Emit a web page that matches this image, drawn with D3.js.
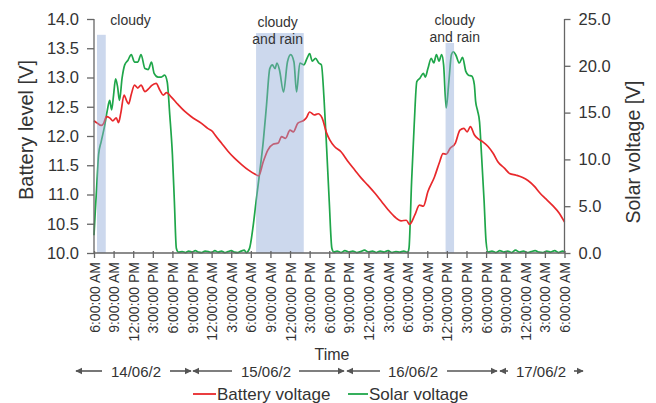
<!DOCTYPE html>
<html>
<head>
<meta charset="utf-8">
<script src="https://cdn.jsdelivr.net/npm/d3@7"></script>
<style>
  html, body { margin: 0; padding: 0; background: #fff; }
  svg { display: block; font-family: "Liberation Sans", Arial, sans-serif; }
</style>
</head>
<body>
<svg id="chart" width="656" height="403"></svg>
<script>
// Battery voltage readings: hours since 6:00 AM on 14/06 and volts
const batteryHours = [0,0.5,1.1,1.5,1.9,2.4,2.9,3.4,3.75,4.1,4.6,5.0,5.3,5.7,6.2,6.7,7.2,7.8,8.3,8.8,9.5,10.1,10.6,11.1,11.8,12.85,13.9,14.9,16.4,17.4,18.2,18.5,19.5,20.5,21.5,22.5,23.6,24.6,25.2,25.9,26.6,27.4,28.2,28.7,29.3,30.0,30.5,31.2,32.0,32.5,33.0,33.7,34.3,34.9,35.6,36.1,36.8,37.8,38.9,39.9,40.9,41.9,43.0,44.0,45.0,46.0,47.0,47.8,48.3,49.1,49.8,50.4,51.1,52.1,52.9,53.4,53.9,54.5,55.3,56.0,56.6,57.1,57.6,58.2,58.8,59.5,60.3,61.1,61.8,62.8,63.6,64.6,65.6,66.4,67.4,68.2,69.2,70.2,71.2,72.0];
const batteryVolts = [12.26,12.22,12.18,12.22,12.33,12.31,12.26,12.31,12.23,12.39,12.70,12.60,12.55,12.71,12.87,12.82,12.87,12.76,12.80,12.86,12.90,12.78,12.70,12.74,12.67,12.54,12.42,12.33,12.22,12.13,12.07,12.02,11.88,11.74,11.62,11.52,11.42,11.35,11.32,11.56,11.76,11.86,11.88,11.99,11.96,12.10,12.07,12.22,12.26,12.31,12.41,12.36,12.38,12.31,12.05,11.93,11.82,11.73,11.56,11.42,11.28,11.16,11.02,10.88,10.74,10.62,10.55,10.56,10.49,10.65,10.82,10.80,11.05,11.30,11.56,11.70,11.69,11.79,11.88,12.10,12.13,12.07,12.16,12.02,11.95,11.90,11.82,11.70,11.56,11.45,11.36,11.33,11.29,11.24,11.14,11.03,10.92,10.81,10.68,10.53];

// Solar panel voltage readings: hours since 6:00 AM on 14/06 and volts
const solarHours = [0,0.2,0.4,0.7,1.1,1.6,2.0,2.4,2.7,3.0,3.3,3.6,3.9,4.3,4.7,5.2,5.7,6.2,6.7,7.2,7.8,8.3,8.8,9.2,9.8,10.3,10.8,11.2,11.6,12.0,12.3,12.6,12.9,13.5,14.0,14.5,15.0,15.5,16.0,16.5,17.0,17.5,18.0,18.5,19.0,19.5,20.0,20.5,21.0,21.5,22.0,22.5,23.0,23.3,23.8,24.3,24.8,25.3,25.9,26.4,26.9,27.3,27.7,28.0,28.4,29.0,29.6,30.1,30.6,31.0,31.5,32.1,32.6,33.0,33.4,33.9,34.4,34.8,35.2,35.6,36.0,36.4,36.7,37.2,37.8,38.4,39.0,39.6,40.2,40.8,41.4,42.0,42.6,43.2,43.8,44.4,45.0,45.6,46.2,46.8,47.4,48.0,48.2,48.6,49.0,49.4,49.9,50.4,50.7,51.1,51.6,52.0,52.4,52.8,53.2,53.5,53.9,54.3,54.7,55.0,55.4,55.9,56.4,56.9,57.3,57.8,58.2,58.4,58.7,59.0,59.3,59.7,60.0,60.3,60.9,61.5,62.1,62.7,63.3,63.9,64.5,65.1,65.7,66.3,66.9,67.5,68.1,68.7,69.3,69.9,70.5,71.1,71.7,72.0];
const solarVolts = [1.9,4.5,6.9,10.5,11.9,13.5,15.1,16.3,15.3,16.9,18.6,17.8,16.3,18.7,20.1,20.6,21.2,20.4,20.4,21.2,19.7,19.6,20.4,19.2,18.8,18.8,19.0,18.3,14.7,10.5,5.5,0.5,0.1,0.15,0.05,0.2,0.1,0.25,0.1,0.05,0.2,0.15,0.05,0.25,0.1,0.2,0.05,0.15,0.25,0.1,0.05,0.2,0.3,0.05,0.5,2.6,5.5,8.3,11.9,15.8,19.7,20.1,19.7,20.3,19.5,17.2,20.4,21.2,20.4,17.2,20.3,20.1,20.8,21.3,20.5,20.8,20.3,20.1,16.5,11.2,5.5,0.5,0.1,0.2,0.05,0.25,0.1,0.2,0.05,0.15,0.3,0.1,0.2,0.05,0.2,0.1,0.25,0.05,0.15,0.1,0.2,0.05,0.5,7.6,13.7,18.3,18.7,19.2,18.8,19.7,20.8,20.3,21.2,20.5,21.2,20.1,15.5,18.3,21.2,21.5,21.1,20.3,20.9,19.4,19.0,18.9,18.0,16.2,15.2,14.0,10.5,5.5,1.2,0.1,0.2,0.05,0.25,0.1,0.2,0.05,0.3,0.1,0.2,0.05,0.15,0.25,0.1,0.05,0.2,0.1,0.25,0.05,0.2,0.15];

// Weather periods (hours since start) with the battery-axis height of each band
const weatherStart = [0.46, 24.8, 53.8];
const weatherEnd   = [1.8, 32.1, 55.1];
const weatherTop   = [13.73, 13.76, 13.59];
const weatherNote  = [["cloudy"], ["cloudy", "and rain"], ["cloudy", "and rain"]];
const weatherNoteHour = [5.6, 28.1, 55.2];

// Day labels under the time axis
const dayLabels = ["14/06/2", "15/06/2", "16/06/2", "17/06/2"];

// Axis ticks
const batteryTicks = [10.0, 10.5, 11.0, 11.5, 12.0, 12.5, 13.0, 13.5, 14.0];
const solarTicks = [0, 5, 10, 15, 20, 25];

const svg = d3.select("#chart");
const plotLeft = 94, plotRight = 564.5, plotTop = 19, plotBottom = 253;
const textColor = "#333";
const axisColor = "#666";
const redColor = "#e8282b";
const greenColor = "#1fa64a";

const t0 = new Date(2022, 5, 14, 6, 0, 0);
const toDate = h => new Date(t0.getTime() + h * 3600e3);
const x = d3.scaleTime().domain([t0, toDate(72)]).range([plotLeft, plotRight]);
const yB = d3.scaleLinear().domain([10, 14]).range([plotBottom, plotTop]);
const yS = d3.scaleLinear().domain([0, 25]).range([plotBottom, plotTop]);

const battery = batteryHours.map((h, i) => ({ t: toDate(h), v: batteryVolts[i] }));
const solar = solarHours.map((h, i) => ({ t: toDate(h), v: solarVolts[i] }));

// Lines
const lineB = d3.line().x(d => x(d.t)).y(d => yB(d.v)).curve(d3.curveMonotoneX);
const lineS = d3.line().x(d => x(d.t)).y(d => yS(d.v)).curve(d3.curveMonotoneX);

svg.append("path").datum(solar).attr("d", lineS)
  .attr("fill", "none").attr("stroke", greenColor).attr("stroke-width", 1.7);
svg.append("path").datum(battery).attr("d", lineB)
  .attr("fill", "none").attr("stroke", redColor).attr("stroke-width", 1.7);

// Weather bands (translucent, over the lines)
svg.append("g").selectAll("rect").data(weatherStart).join("rect")
  .attr("x", d => x(toDate(d)))
  .attr("width", (d, i) => x(toDate(weatherEnd[i])) - x(toDate(d)))
  .attr("y", (d, i) => yB(weatherTop[i]))
  .attr("height", (d, i) => yB(10) - yB(weatherTop[i]))
  .attr("fill", "#8fa8d8").attr("fill-opacity", 0.45);

// Weather notes
weatherNote.forEach((lines, i) => {
  const cx = x(toDate(weatherNoteHour[i]));
  const g = svg.append("text")
    .attr("x", cx)
    .attr("y", i === 1 ? 27 : 25)
    .attr("text-anchor", "middle")
    .attr("font-size", 14).attr("fill", textColor);
  lines.forEach((s, j) => g.append("tspan")
    .attr("x", cx).attr("dy", j === 0 ? 0 : 17).text(s));
});

// Left axis
const gL = svg.append("g").attr("transform", `translate(${plotLeft},0)`)
  .call(d3.axisLeft(yB).tickValues(batteryTicks).tickFormat(d3.format(".1f")).tickSize(7).tickPadding(8));
// Right axis
const gR = svg.append("g").attr("transform", `translate(${plotRight},0)`)
  .call(d3.axisRight(yS).tickValues(solarTicks).tickFormat(d3.format(".1f")).tickSize(6).tickPadding(8));
[gL, gR].forEach(g => {
  g.select(".domain").attr("stroke", axisColor).attr("stroke-width", 1.3)
    .attr("d", `M0,${plotTop}V${plotBottom}`);
  g.selectAll(".tick line").attr("stroke", axisColor).attr("stroke-width", 1.3);
  g.selectAll(".tick text").attr("font-size", 16.5).attr("fill", textColor)
    .attr("font-family", "'Liberation Sans', Arial, sans-serif");
});

// Bottom time axis
const gX = svg.append("g").attr("transform", `translate(0,${plotBottom})`)
  .call(d3.axisBottom(x).ticks(d3.timeHour.every(3)).tickFormat(d3.timeFormat("%-I:%M:%S %p")).tickSize(5));
gX.select(".domain").attr("stroke", axisColor).attr("stroke-width", 1.3).attr("d", `M${plotLeft},0H${plotRight}`);
gX.selectAll(".tick line").attr("stroke", axisColor).attr("stroke-width", 1.3).attr("y1", -2);
gX.selectAll(".tick text")
  .attr("font-size", 14).attr("fill", textColor)
  .attr("font-family", "'Liberation Sans', Arial, sans-serif")
  .attr("text-anchor", "end")
  .attr("transform", "rotate(-90)")
  .attr("x", -9).attr("y", 0).attr("dy", "0.36em");

// Axis titles
svg.append("text").attr("transform", "translate(33,130) rotate(-90)")
  .attr("text-anchor", "middle").attr("font-size", 20).attr("fill", textColor).text("Battery level [V]");
svg.append("text").attr("transform", "translate(640,152) rotate(-90)")
  .attr("text-anchor", "middle").attr("font-size", 19.5).attr("fill", textColor).text("Solar voltage [V]");
svg.append("text").attr("x", 332).attr("y", 360)
  .attr("text-anchor", "middle").attr("font-size", 16).attr("fill", textColor).text("Time");

// Day spans with arrows
const defs = svg.append("defs");
defs.append("marker").attr("id", "ah").attr("viewBox", "0 0 10 10")
  .attr("refX", 9).attr("refY", 5).attr("markerWidth", 4.5).attr("markerHeight", 4.5)
  .attr("orient", "auto-start-reverse").attr("markerUnits", "strokeWidth")
  .append("path").attr("d", "M0,0L10,5L0,10z").attr("fill", "#555");

const dayY = 371;
const dayCenters = [136, 266, 413, 541];
const arrows = [[102, 76], [170, 191], [232, 193], [299, 344], [380, 347], [447, 497], [508, 500], [574, 583]];
svg.append("g").selectAll("line").data(arrows).join("line")
  .attr("x1", d => d[0]).attr("x2", d => d[1]).attr("y1", dayY).attr("y2", dayY)
  .attr("stroke", "#555").attr("stroke-width", 1.6).attr("marker-end", "url(#ah)");
svg.append("g").selectAll("text").data(dayLabels).join("text")
  .attr("x", (d, i) => dayCenters[i]).attr("y", dayY + 5.5)
  .attr("text-anchor", "middle").attr("font-size", 15).attr("fill", textColor).text(d => d);

// Legend
const legY = 394;
svg.append("line").attr("x1", 193).attr("x2", 216).attr("y1", legY).attr("y2", legY)
  .attr("stroke", redColor).attr("stroke-width", 1.8);
svg.append("text").attr("x", 217).attr("y", legY + 6).attr("font-size", 17).attr("fill", textColor).text("Battery voltage");
svg.append("line").attr("x1", 348).attr("x2", 368).attr("y1", legY).attr("y2", legY)
  .attr("stroke", greenColor).attr("stroke-width", 1.8);
svg.append("text").attr("x", 369).attr("y", legY + 6).attr("font-size", 17).attr("fill", textColor).text("Solar voltage");
</script>
</body>
</html>
